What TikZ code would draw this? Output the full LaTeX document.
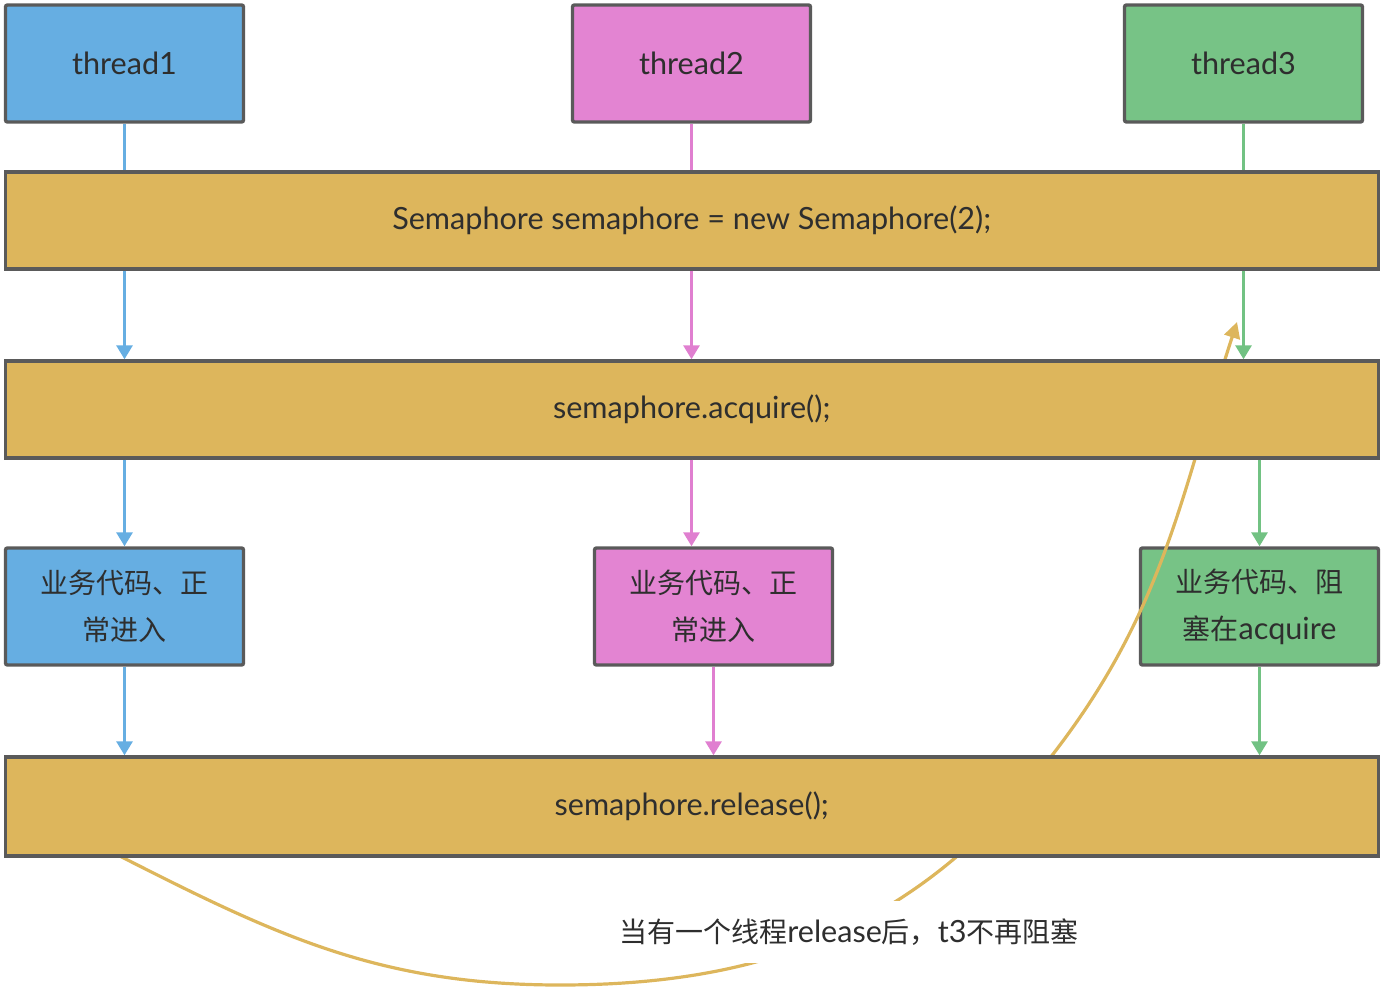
\documentclass[tikz,border=0pt]{standalone}
\usepackage{fontspec}
\setmainfont{Lato}
\newfontfamily\cjk[Scale=0.915]{Noto Sans CJK SC}
\usetikzlibrary{arrows.meta}
\definecolor{bluef}{HTML}{66AEE2}
\definecolor{pinkf}{HTML}{E384D2}
\definecolor{greenf}{HTML}{77C386}
\definecolor{goldf}{HTML}{DDB65C}
\definecolor{bordc}{HTML}{5A5A5A}
\definecolor{txtc}{HTML}{2E2E2E}
\definecolor{bluel}{HTML}{66AEE2}
\definecolor{pinkl}{HTML}{E07FD0}
\definecolor{greenl}{HTML}{72C283}
\begin{document}
\begin{tikzpicture}[x=0.5pt,y=-0.5pt,
  every node/.style={text=txtc, font=\fontsize{15.3pt}{23.5pt}\selectfont},
  sbox/.style={draw=bordc, line width=1.7pt, rounded corners=1pt, minimum width=119pt, minimum height=58.5pt, inner sep=0pt, align=center},
  bar/.style={draw=bordc, line width=1.7pt, fill=goldf, minimum width=686.5pt, minimum height=48.5pt, inner sep=0pt},
  conn/.style={line width=1.5pt},
  arr/.style={conn, -{Triangle[width=8pt,length=7pt]}},
  curve/.style={draw=goldf, line width=1.6pt, -{Triangle[width=8pt,length=8pt]}}
]
\useasboundingbox (0,0) rectangle (1384,988);
% small boxes
\node[sbox, fill=bluef] (t1) at (124.5,63.5) {thread1};
\node[sbox, fill=pinkf] (t2) at (691.5,63.5) {thread2};
\node[sbox, fill=greenf] (t3) at (1243.5,63.5) {thread3};
\node[sbox, fill=bluef] (b1) at (124.5,606.5) {{\cjk 业务代码、正}\\{\cjk 常进入}};
\node[sbox, fill=pinkf] (b2) at (713.5,606.5) {{\cjk 业务代码、正}\\{\cjk 常进入}};
\node[sbox, fill=greenf] (b3) at (1259.5,606.5) {{\cjk 业务代码、阻}\\{\cjk 塞在}acquire};
% curve (behind bars, above small boxes)
\coordinate (cs) at (108,850);
\coordinate (cm) at (560,985);
\coordinate (cn) at (1050,758);
\coordinate (ce) at (1237,322);
\draw[curve] (cs) to[out=-27,in=180] (cm) to[out=0,in=-128] (cn) to[out=52,in=-108] (ce);
% bars
\node[bar] (sem) at (691.75,220.5) {Semaphore semaphore = new Semaphore(2);};
\node[bar] (acq) at (691.75,409.5) {semaphore.acquire();};
\node[bar, minimum height=49.5pt] (rel) at (691.75,806.5) {semaphore.release();};
% label
\node[fill=white, inner xsep=6pt, inner ysep=9pt] (lbl) at (849,932)
  {{\cjk 当有一个线程}release{\cjk 后，}t3{\cjk 不再阻塞}};
% connectors thread1
\draw[conn, bluel] (t1.south) -- (t1.south |- sem.north);
\draw[arr, bluel] (t1.south |- sem.south) -- (t1.south |- acq.north);
\draw[arr, bluel] (t1.south |- acq.south) -- (b1.north);
\draw[arr, bluel] (b1.south) -- (b1.south |- rel.north);
% thread2
\draw[conn, pinkl] (t2.south) -- (t2.south |- sem.north);
\draw[arr, pinkl] (t2.south |- sem.south) -- (t2.south |- acq.north);
\draw[arr, pinkl] (t2.south |- acq.south) -- (t2.south |- b2.north);
\draw[arr, pinkl] (b2.south) -- (b2.south |- rel.north);
% thread3
\draw[conn, greenl] (t3.south) -- (t3.south |- sem.north);
\draw[arr, greenl] (t3.south |- sem.south) -- (t3.south |- acq.north);
\draw[arr, greenl] (b3.north |- acq.south) -- (b3.north);
\draw[arr, greenl] (b3.south) -- (b3.south |- rel.north);
\end{tikzpicture}
\end{document}
